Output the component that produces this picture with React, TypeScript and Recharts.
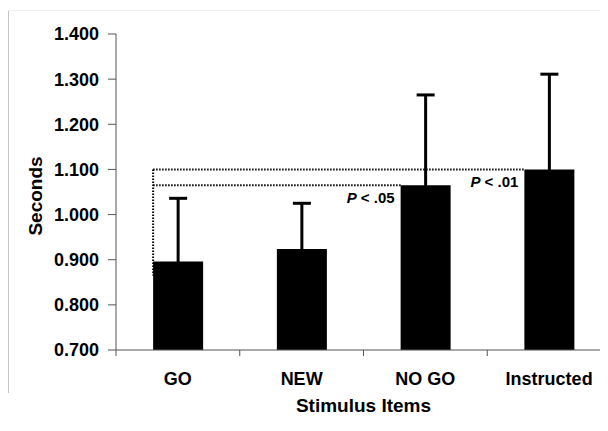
import { BarChart, Bar, XAxis, YAxis, ErrorBar, ReferenceLine } from "recharts";

const categories = ["GO", "NEW", "NO GO", "Instructed"];
const means = [0.896, 0.924, 1.065, 1.1];
const errors = [0.14, 0.101, 0.2, 0.211];
const yTicks = [0.7, 0.8, 0.9, 1.0, 1.1, 1.2, 1.3, 1.4];

// significance brackets: from GO bar to the compared bar, drawn at that bar's mean
const bracketFrom = 0; // GO
const bracketBottom = 0.865;
const comparisons = [
  { to: 2, label: ".05" },
  { to: 3, label: ".01" },
];

const FONT = "'Liberation Sans', Arial, sans-serif";
const BAR_FRAC = 0.4; // bar width as share of band (barCategoryGap 30%)

const data = categories.map((name, i) => ({
  name,
  pos: i + 0.5, // band centre on the helper numeric axis
  value: means[i],
  // small lower part keeps the lower cap hidden inside the bar
  err: [0.005, errors[i]],
}));

const barLeft = (i: number) => i + 0.5 - BAR_FRAC / 2;

const tickStyle = { fill: "#000", fontSize: 18, fontWeight: "bold", fontFamily: FONT };

const PLabel = (text: string) => (props: any) => {
  const vb = props.viewBox || {};
  return (
    <text
      x={vb.x + vb.width - 6}
      y={vb.y + 18}
      textAnchor="end"
      fill="#000"
      fontSize={15}
      fontWeight="bold"
      fontFamily={FONT}
    >
      <tspan fontStyle="italic">P</tspan> &lt; {text}
    </text>
  );
};

export default function App() {
  return (
    <div style={{ position: "relative", width: 600, height: 423, overflow: "hidden" }}>
      <div style={{ position: "absolute", left: 0, top: 2, width: 1, height: 383, background: "#c4c4c4" }} />
      <div style={{ position: "absolute", left: 0, top: 2, right: 0, height: 1, background: "#eeeeee" }} />
      <div style={{ position: "absolute", left: 1, top: 3 }}>
        <BarChart
          width={610}
          height={415}
          data={data}
          margin={{ top: 23, right: 8, bottom: 0, left: 0 }}
          barCategoryGap="30%"
        >
          {/* helper axis (id 0, sits next to the plot): axis line + tick marks between categories */}
          <XAxis
            xAxisId={0}
            dataKey="pos"
            type="number"
            domain={[0, categories.length]}
            allowDataOverflow
            ticks={categories.map((_, i) => i).concat(categories.length)}
            interval={0}
            height={6}
            axisLine={{ stroke: "#555" }}
            tick={() => <g />}
            tickSize={6}
            tickLine={{ stroke: "#555" }}
          />
          <XAxis
            xAxisId="cat"
            dataKey="name"
            height={70}
            axisLine={false}
            tickLine={false}
            tickSize={0}
            tickMargin={16}
            tick={tickStyle}
            label={{
              content: (p: any) => {
                const vb = p.viewBox || {};
                return (
                  <text
                    x={vb.x + vb.width / 2}
                    y={vb.y + 56}
                    textAnchor="middle"
                    fill="#000"
                    fontSize={19}
                    fontWeight="bold"
                    fontFamily={FONT}
                  >
                    Stimulus Items
                  </text>
                );
              },
            }}
          />
          <YAxis
            type="number"
            domain={[0.7, 1.4]}
            ticks={yTicks}
            interval={0}
            width={107}
            tickFormatter={(v: number) => v.toFixed(3)}
            axisLine={{ stroke: "#555" }}
            tickLine={{ stroke: "#555" }}
            tickSize={8}
            tickMargin={9}
            tick={tickStyle}
            label={{
              content: (p: any) => {
                const vb = p.viewBox || {};
                const x = vb.x + 26;
                const y = vb.y + vb.height / 2 + 4;
                return (
                  <text
                    x={x}
                    y={y}
                    transform={`rotate(-90, ${x}, ${y})`}
                    textAnchor="middle"
                    dominantBaseline="central"
                    fill="#000"
                    fontSize={19}
                    fontWeight="bold"
                    fontFamily={FONT}
                  >
                    Seconds
                  </text>
                );
              },
            }}
          />
          <Bar xAxisId="cat" dataKey="value" fill="#000" isAnimationActive={false}>
            <ErrorBar dataKey="err" width={9} strokeWidth={3} stroke="#000" isAnimationActive={false} />
          </Bar>
          <ReferenceLine
            xAxisId={0}
            ifOverflow="visible"
            segment={[
              { x: barLeft(bracketFrom), y: means[comparisons[1].to] },
              { x: barLeft(bracketFrom), y: bracketBottom },
            ]}
            stroke="#000"
            strokeWidth={2}
            strokeDasharray="1.5 1.5"
          />
          {comparisons.map((c) => (
            <ReferenceLine
              key={c.label}
              xAxisId={0}
              ifOverflow="visible"
              segment={[
                { x: barLeft(bracketFrom), y: means[c.to] },
                { x: barLeft(c.to), y: means[c.to] },
              ]}
              stroke="#000"
              strokeWidth={2}
              strokeDasharray="1.5 1.5"
              label={{ content: PLabel(c.label) }}
            />
          ))}
        </BarChart>
      </div>
    </div>
  );
}
